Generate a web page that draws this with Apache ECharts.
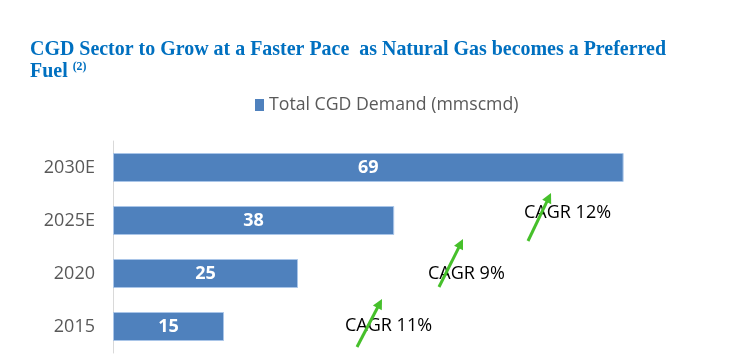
<!DOCTYPE html>
<html>
<head>
<meta charset="utf-8">
<script src="https://cdn.jsdelivr.net/npm/echarts@6/dist/echarts.min.js"></script>
<style>html,body{margin:0;padding:0;background:#fff}#c{width:738px;height:361px}</style>
</head>
<body>
<div id="c"></div>
<script>
const categories = ['2015', '2020', '2025E', '2030E'];
const demand = [15, 25, 38, 69];
const seriesName = 'Total CGD Demand (mmscmd)';
const titleLine1 = 'CGD Sector to Grow at a Faster Pace  as Natural Gas becomes a Preferred';
const titleLine2 = 'Fuel';
const titleNote = '(2)';
const cagrLabels = ['CAGR 11%', 'CAGR 9%', 'CAGR 12%'];

const ctx = document.createElement('canvas').getContext('2d');
function measure(t, font) { ctx.font = font; return ctx.measureText(t).width; }
const titleFont = 'bold 22px "Liberation Serif"';
const titleScale = 636 / measure(titleLine1, titleFont);
const fuelW = measure(titleLine2 + ' ', titleFont) * titleScale;

// annotation arrows: [x0, y0, x1, y1]
const arrowPos = [[357, 347, 382, 299], [439, 287, 463, 239], [528, 241, 551, 193]];
const cagrPos = [[345, 326], [428, 274], [524, 213]];
const green = '#46c02b';

const graphics = [
  { type: 'text', x: 30, y: 49, scaleX: titleScale,
    style: { text: titleLine1, font: titleFont, fill: '#0070c0', verticalAlign: 'middle', align: 'left' } },
  { type: 'text', x: 30, y: 71, scaleX: titleScale,
    style: { text: titleLine2, font: titleFont, fill: '#0070c0', verticalAlign: 'middle', align: 'left' } },
  { type: 'text', x: 30 + fuelW, y: 67, scaleX: titleScale,
    style: { text: titleNote, font: 'bold 13px "Liberation Serif"', fill: '#0070c0', verticalAlign: 'middle', align: 'left' } }
];
cagrLabels.forEach((t, i) => {
  graphics.push({ type: 'text', x: cagrPos[i][0], y: cagrPos[i][1], z: 10,
    style: { text: t, font: '18px "Open Sans"', fill: '#000', verticalAlign: 'middle', align: 'left' } });
});
arrowPos.forEach(a => {
  const [x0, y0, x1, y1] = a;
  const dx = x1 - x0, dy = y1 - y0, L = Math.hypot(dx, dy);
  const ux = dx / L, uy = dy / L, px = -uy, py = ux;
  const hl = 10, hw = 5;
  const bx = x1 - ux * hl, by = y1 - uy * hl;
  graphics.push({ type: 'line', z: 20, shape: { x1: x0, y1: y0, x2: bx + ux, y2: by + uy },
    style: { stroke: green, lineWidth: 3 } });
  graphics.push({ type: 'polygon', z: 20, shape: { points: [[x1, y1], [bx + px * hw, by + py * hw], [bx - px * hw, by - py * hw]] },
    style: { fill: green } });
});

const chart = echarts.init(document.getElementById('c'), null, { renderer: 'canvas' });
chart.setOption({
  animation: false,
  backgroundColor: '#fff',
  legend: {
    data: [seriesName], left: 255, top: 95, padding: 0,
    icon: 'rect', itemWidth: 9, itemHeight: 12,
    itemStyle: { borderWidth: 0 },
    textStyle: { fontFamily: 'Open Sans', fontSize: 17.7, color: '#595959', lineHeight: 20 }
  },
  grid: { left: 113, right: 33, top: 141, bottom: 8, containLabel: false },
  xAxis: { type: 'value', min: 0, max: 80, show: false },
  yAxis: {
    type: 'category', data: categories,
    axisLine: { lineStyle: { color: '#d9d9d9', width: 1 } },
    axisTick: { show: false },
    axisLabel: { margin: 18, color: '#595959', fontFamily: 'Open Sans', fontSize: 18 }
  },
  series: [{
    name: seriesName, type: 'bar', data: demand, barWidth: 29,
    itemStyle: { color: '#4f81bd', borderColor: '#a9c5e8', borderWidth: 1 },
    label: { show: true, position: 'inside', color: '#fff', fontFamily: 'Open Sans', fontWeight: 'bold', fontSize: 18 }
  }],
  graphic: graphics
});
</script>
</body>
</html>
